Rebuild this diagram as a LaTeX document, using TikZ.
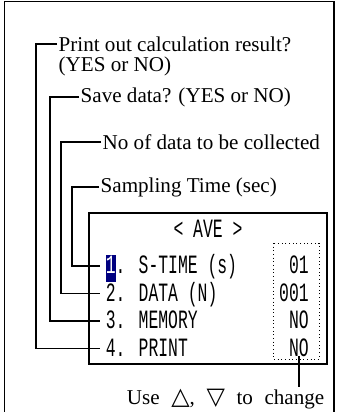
\documentclass[tikz,border=0pt]{standalone}
\usepackage{fontspec}
\setmainfont{Liberation Serif}
\newfontfamily\lcdfont[FakeStretch=0.62]{Liberation Mono}
\newfontfamily\symfont{DejaVu Sans}
\definecolor{lcdblue}{RGB}{0,0,128}
\newcommand\hlnum[1]{{\setlength\fboxsep{0pt}\colorbox{lcdblue}{\strut\textcolor{white}{#1}}}}
\newcommand\tri[1]{{\symfont\fontsize{17}{17}\selectfont #1}}

\begin{document}
\begin{tikzpicture}[x=0.025cm, y=-0.025cm,
  lbl/.style={anchor=west, inner sep=1pt, font=\fontsize{15}{17}\selectfont},
  lcd/.style={inner sep=0pt, text height=10.7pt, text depth=0pt, font=\lcdfont\fontsize{18.8}{19}\selectfont},
  wire/.style={line width=1.3pt}]
\useasboundingbox (0,0) rectangle (338,412);
\draw[line width=1.4pt] (4.5,412) -- (4.5,1.5) -- (334,1.5) -- (334,412);

% annotations
\node[lbl] (lprint) at (57,44) {Print out calculation result?};
\node[lbl] (lprint2) at (57,66) {(YES or NO)};
\node[lbl] (lsave) at (79,97) {Save data? (YES or NO)};
\node[lbl] (ldata) at (101,142) {No of data to be collected};
\node[lbl] (ltime) at (99,187) {Sampling Time (sec)};

% display
\draw[wire] (88.7,212.7) rectangle (327,364);
\node[lcd] (title) at (208,230) {< AVE >};
\node[lcd, anchor=west, inner xsep=4pt] (r1) at (100,266) {\hlnum{1}. S-TIME (s)};
\node[lcd, anchor=west, inner xsep=4pt] (r2) at (100,293.5) {2. DATA (N)};
\node[lcd, anchor=west, inner xsep=4pt] (r3) at (100,321) {3. MEMORY};
\node[lcd, anchor=west, inner xsep=4pt] (r4) at (100,348.5) {4. PRINT};

\node[lcd, anchor=east] (v1) at (309,266) {01};
\node[lcd, anchor=east] (v2) at (309,293.5) {001};
\node[lcd, anchor=east] (v3) at (309,321) {NO};
\node[lcd, anchor=east] (v4) at (309,348.5) {NO};
\draw[dotted, line width=0.6pt] (273,243) rectangle (319,359);

% leaders
\draw[wire] (lprint.west) -- ++(-21,0) |- (r4.west);
\draw[wire] (lsave.west) -- ++(-29,0) |- (r3.west);
\draw[wire] (ldata.west) -- ++(-40,0) |- (r2.west);
\draw[wire] (ltime.west) -- ++(-27,0) |- (r1.west);

\node[lbl, anchor=east] (note) at (326,399) {\spaceskip=0.55em Use \tri{△}, \tri{▽} to change};
\draw[wire] (v4.south) -- (v4.south |- note.north);
\end{tikzpicture}
\end{document}
